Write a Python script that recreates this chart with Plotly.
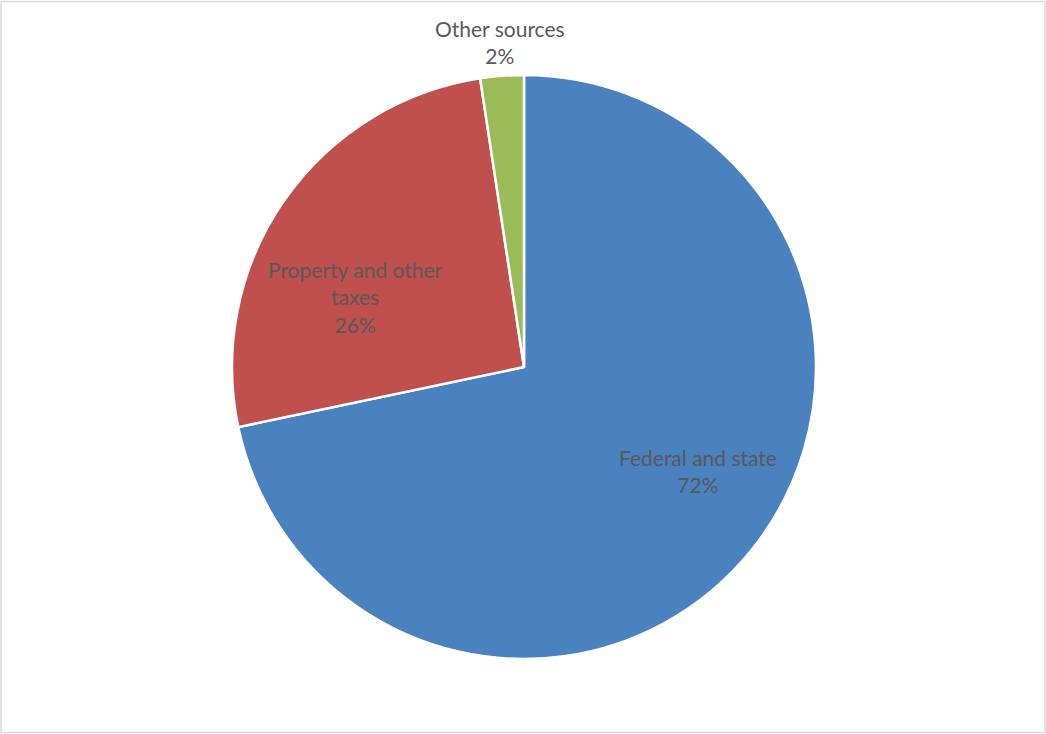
import plotly.graph_objects as go

labels = ["Federal and state", "Property and other taxes", "Other sources"]
display_text = ["Federal and state", "Property and other<br>taxes", "Other sources"]
values = [71.7, 25.9, 2.4]
colors = ["#4A81BF", "#C0504D", "#9BBB59"]

W, H = 1046, 734
cx, cy, r = 524, 367, 292

# label centre positions in pixels (layout only)
label_pos = [(698, 471), (355, 297), (500, 42)]

fig = go.Figure(go.Pie(
    labels=labels,
    values=values,
    textinfo="none",
    sort=False,
    direction="clockwise",
    rotation=0,
    marker=dict(colors=colors, line=dict(color="white", width=2.5)),
    showlegend=False,
    hole=0,
    domain=dict(x=[(cx - r) / W, (cx + r) / W], y=[1 - (cy + r) / H, 1 - (cy - r) / H]),
))

total = sum(values)
annotations = []
for txt, v, (px, py) in zip(display_text, values, label_pos):
    annotations.append(dict(
        x=px / W, y=1 - py / H, xref="paper", yref="paper",
        xanchor="center", yanchor="middle", showarrow=False,
        text=f"{txt}<br>{round(v / total * 100)}%",
        font=dict(family="Lato, sans-serif", size=21, color="#595959"),
    ))

fig.update_layout(
    width=W, height=H,
    margin=dict(l=0, r=0, t=0, b=0),
    paper_bgcolor="white",
    annotations=annotations,
    shapes=[dict(type="rect", xref="paper", yref="paper", x0=0.001, x1=0.999, y0=0.002, y1=0.998,
                 line=dict(color="#D9D9D9", width=1.5))],
)

fig.write_html("out.html")
